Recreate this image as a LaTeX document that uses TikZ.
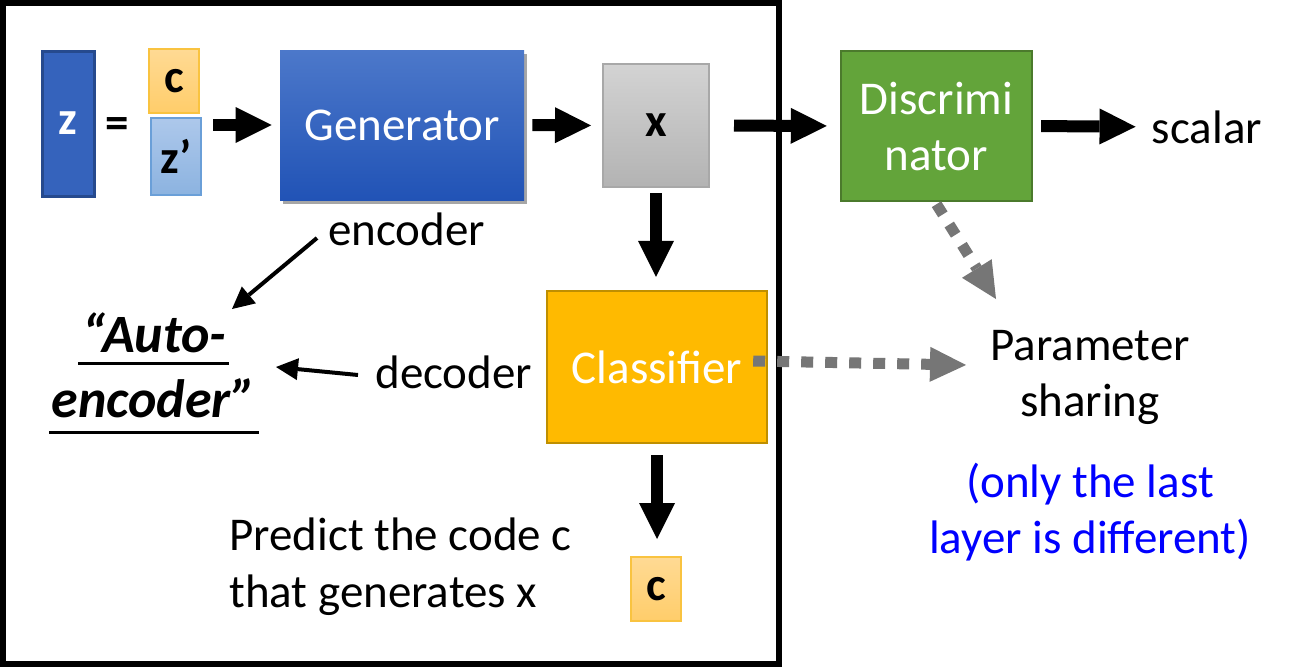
\documentclass[tikz,border=0pt]{standalone}
\usepackage{fontspec}
\setmainfont{Carlito}
\usetikzlibrary{arrows.meta,shadows,calc}
\definecolor{zblue}{HTML}{3563BC}
\definecolor{zbord}{HTML}{264A8E}
\definecolor{cTop}{HTML}{FFDA94}
\definecolor{cBot}{HTML}{FFCD6A}
\definecolor{cBord}{HTML}{F9C340}
\definecolor{zpTop}{HTML}{ADC8EB}
\definecolor{zpBot}{HTML}{8CB3E0}
\definecolor{zpBord}{HTML}{6A9FD8}
\definecolor{genTop}{HTML}{4C78CA}
\definecolor{genBot}{HTML}{2153B6}
\definecolor{xTop}{HTML}{D3D3D3}
\definecolor{xBot}{HTML}{B3B3B3}
\definecolor{xBord}{HTML}{A8A8A8}
\definecolor{discG}{HTML}{63A43A}
\definecolor{discB}{HTML}{4B7A2C}
\definecolor{clsF}{HTML}{FFBA00}
\definecolor{clsB}{HTML}{BF8F00}
\definecolor{dotgray}{HTML}{767676}
\definecolor{noteblue}{HTML}{0000FF}
\begin{document}
\begin{tikzpicture}[x=0.5pt,y=-0.5pt,
  every node/.style={font=\fontsize{23.5pt}{28pt}\selectfont},
  box/.style={rectangle, inner sep=0pt, align=center},
  txt/.style={inner sep=0pt},
  bitxt/.style={inner sep=0pt, font=\fontsize{27pt}{32pt}\selectfont\bfseries\itshape},
  cbox/.style={box, top color=cTop, bottom color=cBot, draw=cBord, line width=1pt, minimum width=25pt, minimum height=32pt},
  bigarrow/.style={line width=6pt, -{Triangle[length=18pt,width=18pt,line width=0pt]}},
  thinarrow/.style={line width=2pt, -{Triangle[length=11pt,width=11pt,line width=0pt]}},
  dotarrow/.style={draw=dotgray, line width=5.5pt, dash pattern=on 6pt off 6pt, -{Triangle[length=18pt,width=17.5pt,line width=0pt,fill=dotgray]}}
]
\useasboundingbox (0,0) rectangle (1292,670);
\fill[white] (0,0) rectangle (1292,670);
% frame
\draw[line width=3pt] (3,3) rectangle (779,664);

% nodes
\node[box, fill=zblue, draw=zbord, line width=1.5pt, minimum width=26pt, minimum height=72.5pt, text=white] (z) at (68,123.5) {\textbf{z}};
\node[txt] (eq) at (117,128) {\textbf{=}};
\node[cbox] (c1) at (174,81) {\textbf{c}};
\node[box, top color=zpTop, bottom color=zpBot, draw=zpBord, line width=1pt, minimum width=25pt, minimum height=38.5pt] (zp) at (176,156.5) {\textbf{z’}};
\node[box, top color=genTop, bottom color=genBot, minimum width=122pt, minimum height=75pt, text=white,
  drop shadow={shadow xshift=1.5pt, shadow yshift=-2pt, opacity=0.35, fill=black}] (gen) at (402,125) {Generator};
\node[box, top color=xTop, bottom color=xBot, draw=xBord, line width=1pt, minimum width=53pt, minimum height=61.5pt] (xb) at (656,125.5) {\textbf{x}};
\node[box, fill=discG, draw=discB, line width=1.2pt, minimum width=95.5pt, minimum height=75pt, text=white] (disc) at (936.5,126) {Discrimi\\nator};
\node[txt, anchor=base] (scalar) at (1207,143) {scalar};
\node[box, fill=clsF, draw=clsB, line width=1.2pt, minimum width=110pt, minimum height=76pt, text=white] (cls) at (657,367) {Classifier};
\node[cbox] (c2) at (656,589) {\textbf{c}};

\node[txt, anchor=base west] (enc) at (328,245) {encoder};
\node[txt, anchor=base west] (dec) at (375,388) {decoder};
\node[bitxt, anchor=base] (auto1) at (154.5,352) {“Auto-};
\node[bitxt, anchor=base] (auto2) at (154,417) {encoder”};
\draw[line width=1.5pt] ($(auto1.base west)+(-4,11)$) -- ($(auto1.base east)+(2,11)$);
\draw[line width=1.5pt] ($(auto2.base west)+(-2,15)$) -- ($(auto2.base east)+(2,15)$);

\node[txt, anchor=base west] (pred1) at (229,550) {Predict the code c};
\node[txt, anchor=base west] (pred2) at (229,607) {that generates x};

\node[txt, anchor=base] (ps1) at (1090,360) {Parameter};
\node[txt, anchor=base] (ps2) at (1090,416) {sharing};
\node[txt, anchor=base, text=noteblue] (bl1) at (1090,497) {(only the last};
\node[txt, anchor=base, text=noteblue] (bl2) at (1090,553) {layer is different)};

% arrows
\draw[bigarrow, shorten <=5.5pt, shorten >=4pt] (zp.east |- gen.west) -- (gen.west);
\draw[bigarrow, shorten <=4pt, shorten >=5.5pt] (gen.east) -- (xb.west);
\draw[bigarrow, shorten <=12pt, shorten >=6.5pt] (xb.east) -- (disc.west);
\draw[bigarrow, shorten <=4pt, shorten >=8pt] (disc.east) -- (scalar.west);
\draw[bigarrow, shorten <=2.5pt, shorten >=6.5pt] (xb.south) -- (xb.south |- cls.north);
\draw[bigarrow, shorten <=5.5pt, shorten >=8.5pt] (cls.south) -- (cls.south |- c2.north);

\coordinate (encTip) at (232,309);
\coordinate (decTip) at (276,367);
\draw[thinarrow] ($(enc.base west)+(-11,-7)$) -- (encTip);
\draw[thinarrow] ($(dec.base west)+(-17,-13)$) -- (decTip);

\coordinate (psin) at (966,365);
\coordinate (psd) at (996,299);
\draw[dotarrow] ([xshift=-7.5pt,yshift=3pt]cls.east) -- (psin);
\draw[dotarrow] ([yshift=-1pt]disc.south) -- (psd);
\end{tikzpicture}
\end{document}
